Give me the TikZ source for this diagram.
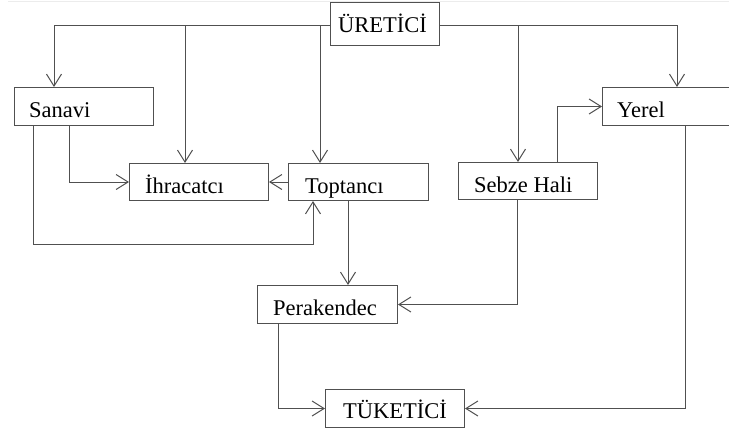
\documentclass[tikz,border=0pt]{standalone}
\usepackage{fontspec}
\setmainfont{Liberation Serif}
\usetikzlibrary{calc,arrows.meta}
\definecolor{ln}{RGB}{80,80,80}
\begin{document}
\begin{tikzpicture}[x=1pt,y=-1pt,
  box/.style={draw=ln,line width=1pt,rectangle,inner sep=0pt,anchor=north west},
  lbl/.style={anchor=base west,inner sep=0pt,font=\fontsize{22.5}{27}\selectfont},
  arr/.style={draw=ln,line width=1pt,-{Straight Barb[length=12pt,width=15pt,line width=1pt]}}]
\useasboundingbox (0,0) rectangle (729,434);
\clip (0,0) rectangle (729,434);
\fill[white] (0,0) rectangle (729,434);
\draw[gray!15] (8,1) -- (729,1);
% boxes
\node[box,minimum width=109pt,minimum height=43pt] (ure) at (330,2) {};
\node[box,minimum width=139pt,minimum height=38pt] (san) at (14,87) {};
\node[box,minimum width=139pt,minimum height=37pt] (ihr) at (129,163) {};
\node[box,minimum width=140pt,minimum height=37pt] (top) at (288,163) {};
\node[box,minimum width=139pt,minimum height=37pt] (seb) at (458,162) {};
\node[box,minimum width=150pt,minimum height=38pt] (yer) at (602,87) {};
\node[box,minimum width=140pt,minimum height=38pt] (per) at (257,285) {};
\node[box,minimum width=139pt,minimum height=38pt] (tuk) at (325,389) {};
% labels
\node[lbl] (ture) at (338,32) {ÜRETİCİ};
\node[lbl] (tsan) at (29,117) {Sanavi};
\node[lbl] (tihr) at (145,193) {İhracatcı};
\node[lbl] (ttop) at (305,193) {Toptancı};
\node[lbl] (tseb) at (474,192) {Sebze Hali};
\node[lbl] (tyer) at (617,117) {Yerel};
\node[lbl] (tper) at (273,315) {Perakendec};
\node[lbl] (ttuk) at (343,418) {TÜKETİCİ};
% coordinates
\coordinate (trL) at ($(ure.west)+(0,1.5)$);
\coordinate (trR) at ($(ure.east)+(0,1.5)$);
\coordinate (sanIn) at ($(san.north west)+(40,0)$);
\coordinate (ihrIn) at ($(ihr.north west)+(56,0)$);
\coordinate (topIn) at ($(top.north west)+(32,0)$);
\coordinate (sebIn) at ($(seb.north west)+(60,0)$);
\coordinate (yerIn) at ($(yer.north west)+(75,0)$);
\coordinate (sanO1) at ($(san.south west)+(55,0)$);
\coordinate (sanO2) at ($(san.south west)+(19,0)$);
\coordinate (topIn2) at ($(top.south west)+(25,0)$);
\coordinate (topO) at ($(top.south west)+(60,0)$);
\coordinate (sebO1) at ($(seb.north west)+(99,0)$);
\coordinate (sebO2) at ($(seb.south west)+(59,0)$);
\coordinate (yerO) at ($(yer.south west)+(83,0)$);
\coordinate (perO) at ($(per.south west)+(21,0)$);
% connectors from ÜRETİCİ
\draw[arr] (trL) -| (sanIn);
\draw[arr] (ihrIn |- trL) -- (ihrIn);
\draw[arr] (topIn |- trL) -- (topIn);
\draw[arr] (trR) -| (yerIn);
\draw[arr] (sebIn |- trR) -- (sebIn);
% others
\draw[arr] (sanO1) |- (ihr.west);
\draw[arr] (sanO2) |- ($(topIn2)+(0,43)$) -- (topIn2);
\draw[arr] (top.west) -- (ihr.east);
\draw[arr] (topO) -- (topO |- per.north);
\draw[arr] (sebO1) |- (yer.west);
\draw[arr] (sebO2) |- (per.east);
\draw[arr] (yerO) |- (tuk.east);
\draw[arr] (perO) |- (tuk.west);
\end{tikzpicture}
\end{document}
